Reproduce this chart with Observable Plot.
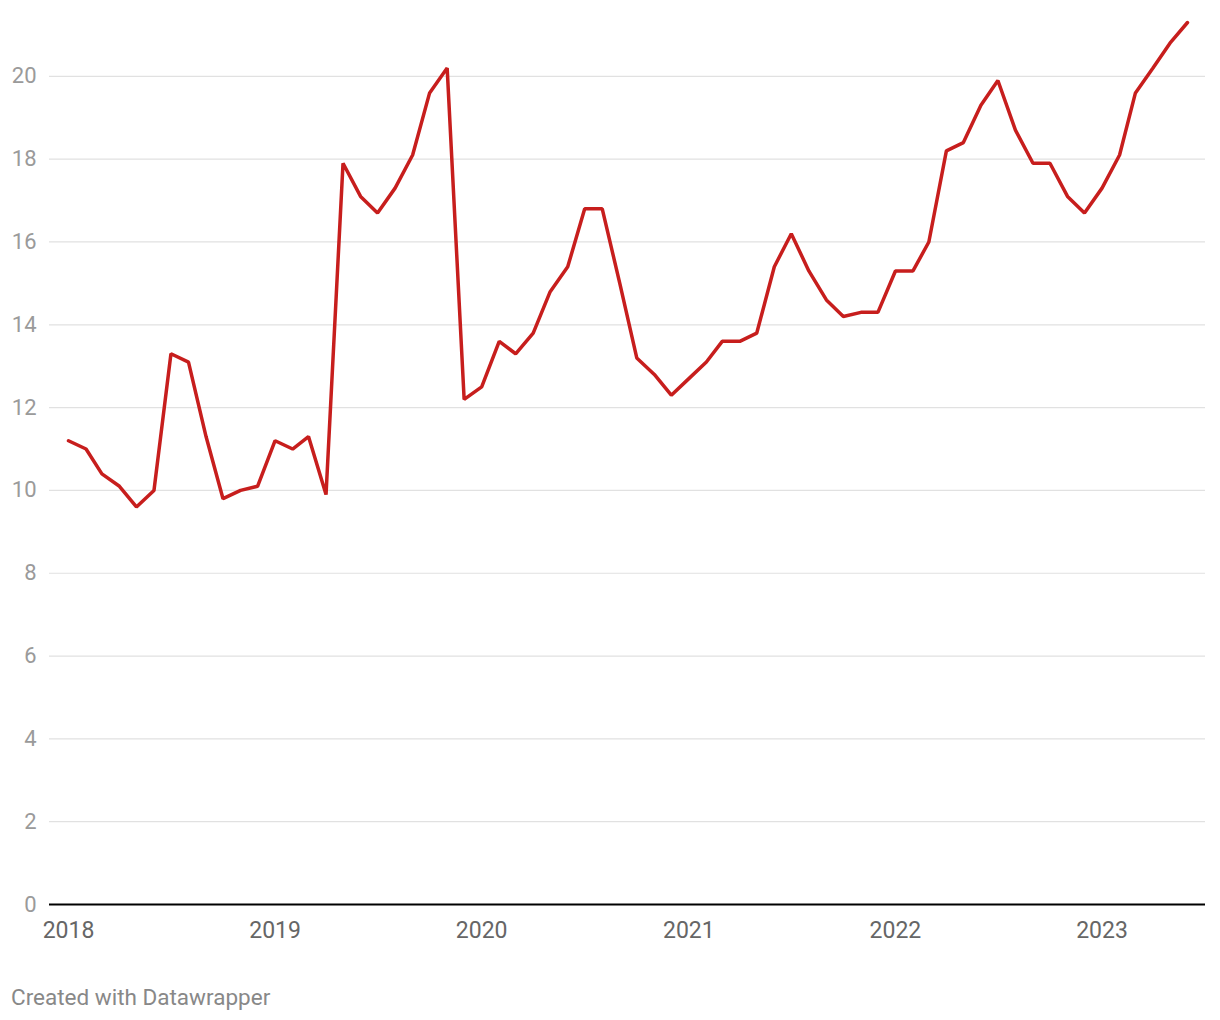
<!DOCTYPE html>
<html><head><meta charset="utf-8">
<script src="https://cdn.jsdelivr.net/npm/d3@7"></script>
<script src="https://cdn.jsdelivr.net/npm/@observablehq/plot@0.6"></script>
<style>
body{margin:0;background:#fff;font-family:Roboto,sans-serif;}
#chart{position:absolute;left:0;top:0;}
#caption{position:absolute;left:11px;top:986px;font-size:22.5px;line-height:1;color:#888;font-family:Roboto,sans-serif;}
</style></head><body><div id="chart"></div><div id="caption">Created with Datawrapper</div>
<script>
const years = [2018, 2019, 2020, 2021, 2022, 2023];
const values2018 = [11.2, 11.0, 10.4, 10.1, 9.6, 10.0, 13.3, 13.1, 11.3, 9.8, 10.0, 10.1];
const values2019 = [11.2, 11.0, 11.3, 9.9, 17.9, 17.1, 16.7, 17.3, 18.1, 19.6, 20.2, 12.2];
const values2020 = [12.5, 13.6, 13.3, 13.8, 14.8, 15.4, 16.8, 16.8, 15.0, 13.2, 12.8, 12.3];
const values2021 = [12.7, 13.1, 13.6, 13.6, 13.8, 15.4, 16.2, 15.3, 14.6, 14.2, 14.3, 14.3];
const values2022 = [15.3, 15.3, 16.0, 18.2, 18.4, 19.3, 19.9, 18.7, 17.9, 17.9, 17.1, 16.7];
const values2023 = [17.3, 18.1, 19.6, 20.2, 20.8, 21.3];
const yTicks = [0, 2, 4, 6, 8, 10, 12, 14, 16, 18, 20];

const byYear = [values2018, values2019, values2020, values2021, values2022, values2023];
const data = [];
byYear.forEach((vals, i) => vals.forEach((v, m) => data.push({date: new Date(Date.UTC(years[i], m, 1)), value: v})));
const yearTicks = years.map(y => new Date(Date.UTC(y, 0, 1)));

const chart = Plot.plot({
  width: 1220, height: 960,
  marginTop: 22, marginBottom: 56, marginLeft: 68, marginRight: 33,
  style: {fontFamily: "Roboto, sans-serif", fontSize: "22px", background: "#fff"},
  x: {type: "utc", domain: [data[0].date, data[data.length - 1].date]},
  y: {domain: [0, 21.3]},
  marks: [
    Plot.ruleY(yTicks.filter(d => d > 0), {stroke: "#e1e1e1", strokeWidth: 1.2, insetLeft: -19, insetRight: -18}),
    Plot.axisY({ticks: yTicks, tickSize: 0, tickPadding: 32, color: "#9a9a9a", fontSize: 22, label: null}),
    Plot.axisX({ticks: yearTicks, tickSize: 0, tickPadding: 17, tickFormat: d3.utcFormat("%Y"), color: "#666", fontSize: 23, label: null}),
    Plot.ruleY([0], {stroke: "#000", strokeWidth: 2, insetLeft: -19, insetRight: -18}),
    Plot.lineY(data, {x: "date", y: "value", stroke: "#c71e1d", strokeWidth: 3.5, strokeLinejoin: "miter"})
  ]
});
document.getElementById("chart").appendChild(chart);
</script></body></html>
